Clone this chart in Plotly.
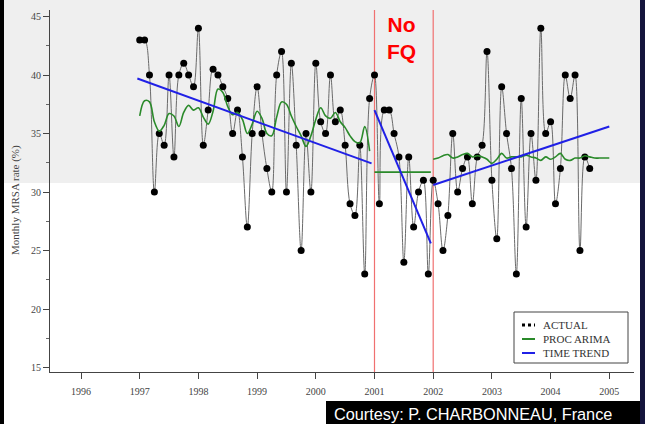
import plotly.graph_objects as go

# ---------------- data ----------------
actual_start_year = 1997
actual_values = [
    43, 43, 40, 30, 35, 34, 40, 33, 40, 41, 40, 39,      # 1997
    44, 34, 37, 40.5, 40, 39, 38, 35, 37, 33, 27, 35,    # 1998
    39, 35, 32, 30, 40, 42, 30, 41, 34, 25, 35, 30,      # 1999
    41, 36, 35, 40, 36, 37, 34, 29, 28, 34, 23, 38,      # 2000
    40, 29, 37, 37, 35, 33, 24, 33, 27, 30, 31, 23,      # 2001
    31, 29, 25, 28, 35, 30, 32, 33, 29, 33, 34, 42,      # 2002
    31, 26, 39, 35, 32, 23, 38, 27, 35, 31, 44, 35,      # 2003
    36, 29, 32, 40, 38, 40, 25, 33, 32,                  # 2004
]

arima_pre = [
    36.5, 37.8, 37.7, 36.0, 35.2, 35.7, 36.7, 36.5, 35.6, 36.8, 37.4, 37.0,
    37.2, 36.4, 35.8, 36.9, 38.8, 38.5, 37.3, 36.6, 36.8, 36.2, 35.0, 35.8,
    36.9, 36.3, 35.0, 34.8, 36.4, 37.7, 37.5, 36.5, 35.6, 34.8, 33.9, 34.8,
    36.2, 37.2, 36.5, 36.3, 36.8, 36.0, 35.5, 34.8, 34.3, 34.2, 35.6, 33.5,
]
arima_nofq_x = [2001.0, 2001.96]
arima_nofq_y = [31.7, 31.7]
arima_post = [
    32.8, 32.9, 33.1, 33.2, 32.9, 33.0, 33.2, 33.3, 33.0, 33.1, 33.0, 32.8,
    32.45, 32.8, 33.3, 32.9, 33.0, 33.0, 33.0, 33.15, 33.0, 32.9, 32.7, 33.0,
    32.8, 33.0, 33.3, 32.8, 32.7, 32.9, 32.9, 33.1, 33.0, 32.9, 32.9, 32.9, 32.9,
]

trend_pre_x = [1996.96, 2000.95]
trend_pre_y = [39.7, 32.45]
trend_mid_x = [2001.0, 2001.96]
trend_mid_y = [37.0, 25.6]
trend_post_x = [2002.0, 2005.0]
trend_post_y = [30.6, 35.6]

intervention_years = [2001, 2002]
x_tick_years = [1996, 1997, 1998, 1999, 2000, 2001, 2002, 2003, 2004, 2005]
y_ticks = [15, 20, 25, 30, 35, 40, 45]

actual_x = [actual_start_year + i / 12 for i in range(len(actual_values))]
arima_pre_x = [1997 + i / 12 for i in range(len(arima_pre))]
arima_post_x = [2002 + i / 12 for i in range(len(arima_post))]

# ---------------- helpers (pixel -> paper) ----------------
L, R, T, B = 50, 634, 10, 372
W, H = 645, 424


def px(x):
    return (x - L) / (R - L)


def py(y):
    return (B - y) / (B - T)


GREEN = "#2a8a2a"
BLUE = "#2020e6"
GRAY = "#6a6a6a"
SERIF = "Liberation Serif"

fig = go.Figure()

fig.add_trace(go.Scatter(
    x=actual_x, y=actual_values, mode="lines+markers",
    line=dict(color=GRAY, width=1, shape="spline", smoothing=1.0),
    marker=dict(color="black", size=7), showlegend=False))

fig.add_trace(go.Scatter(
    x=arima_pre_x, y=arima_pre, mode="lines",
    line=dict(color=GREEN, width=1.6, shape="spline", smoothing=1.0),
    showlegend=False))
fig.add_trace(go.Scatter(
    x=arima_nofq_x, y=arima_nofq_y, mode="lines",
    line=dict(color=GREEN, width=1.6), showlegend=False))
fig.add_trace(go.Scatter(
    x=arima_post_x, y=arima_post, mode="lines",
    line=dict(color=GREEN, width=1.6, shape="spline", smoothing=1.0),
    showlegend=False))

for tx, ty in [(trend_pre_x, trend_pre_y), (trend_mid_x, trend_mid_y), (trend_post_x, trend_post_y)]:
    fig.add_trace(go.Scatter(x=tx, y=ty, mode="lines",
                             line=dict(color=BLUE, width=2), showlegend=False))

shapes = []
# grey upper background band
shapes.append(dict(type="rect", xref="paper", yref="paper", x0=px(-5), x1=px(650),
                   y0=py(183), y1=py(-5), fillcolor="#efefef", line=dict(width=0), layer="below"))
# intervention lines
for yr in intervention_years:
    shapes.append(dict(type="line", xref="x", yref="paper", x0=yr, x1=yr, y0=0, y1=1,
                       line=dict(color="#f07070", width=1.2), layer="below"))
# legend box
shapes.append(dict(type="rect", xref="paper", yref="paper", x0=px(514), x1=px(628),
                   y0=py(363), y1=py(312), fillcolor="white", line=dict(color="#444", width=1)))
shapes.append(dict(type="line", xref="paper", yref="paper", x0=px(522), x1=px(535),
                   y0=py(325), y1=py(325), line=dict(color="black", width=3, dash="dot")))
shapes.append(dict(type="line", xref="paper", yref="paper", x0=px(522), x1=px(535),
                   y0=py(339), y1=py(339), line=dict(color=GREEN, width=2)))
shapes.append(dict(type="line", xref="paper", yref="paper", x0=px(522), x1=px(535),
                   y0=py(353), y1=py(353), line=dict(color=BLUE, width=2)))
# courtesy box
shapes.append(dict(type="rect", xref="paper", yref="paper", x0=px(326), x1=px(641),
                   y0=py(430), y1=py(401), fillcolor="black", line=dict(width=0)))
# frame borders
shapes.append(dict(type="rect", xref="paper", yref="paper", x0=px(-5), x1=px(4),
                   y0=py(430), y1=py(-5), fillcolor="black", line=dict(width=0)))
shapes.append(dict(type="rect", xref="paper", yref="paper", x0=px(640), x1=px(650),
                   y0=py(430), y1=py(-5), fillcolor="#14143c", line=dict(width=0)))


def note(text, x, y, size, color, family=SERIF, xanchor="left", **kw):
    return dict(text=text, xref="paper", yref="paper", x=px(x), y=py(y),
                xanchor=xanchor, yanchor="middle", showarrow=False,
                font=dict(family=family, size=size, color=color), **kw)


annotations = [
    note("<b>No</b><br><b>FQ</b>", 401, 38, 21, "#ff0000", family="Liberation Sans",
         xanchor="center", align="center"),
    note("Monthly MRSA rate (%)", 15, 200, 11, "#444", xanchor="center", textangle=-90),
    note("ACTUAL", 541, 325, 11, "#333"),
    note("PROC ARIMA", 541, 339, 11, "#333"),
    note("TIME TREND", 541, 353, 11, "#333"),
    note("Courtesy: P. CHARBONNEAU, France", 332, 414, 16.3, "white", family="Liberation Sans"),
]

fig.update_layout(
    width=W, height=H,
    margin=dict(l=L, r=W - R, t=T, b=H - B, pad=0),
    paper_bgcolor="white", plot_bgcolor="rgba(0,0,0,0)",
    showlegend=False,
    shapes=shapes, annotations=annotations,
    xaxis=dict(range=[1996 - 31 / 58.7, 1996 + (R - 81) / 58.7],
               tickvals=x_tick_years, ticktext=[str(v) for v in x_tick_years],
               ticks="outside", ticklen=6, tickcolor="#444", tickwidth=1,
               showline=True, linecolor="#444", linewidth=1, showgrid=False, zeroline=False,
               tickfont=dict(family=SERIF, size=10, color="#444"), ticklabelstandoff=4),
    yaxis=dict(range=[40 - (B - 75) / 11.7, 40 + (75 - T) / 11.7],
               tickvals=y_ticks, ticktext=[str(v) for v in y_ticks],
               ticks="outside", ticklen=6, tickcolor="#444", tickwidth=1,
               minor=dict(dtick=2.5, tick0=15, ticks="outside", ticklen=3, tickcolor="#666"),
               showline=True, linecolor="#444", linewidth=1, showgrid=False, zeroline=False,
               tickfont=dict(family=SERIF, size=10, color="#444")),
)

fig.write_html("out.html", config={"displayModeBar": False},
               post_script="document.body.style.margin='0px';document.body.style.overflow='hidden';")
